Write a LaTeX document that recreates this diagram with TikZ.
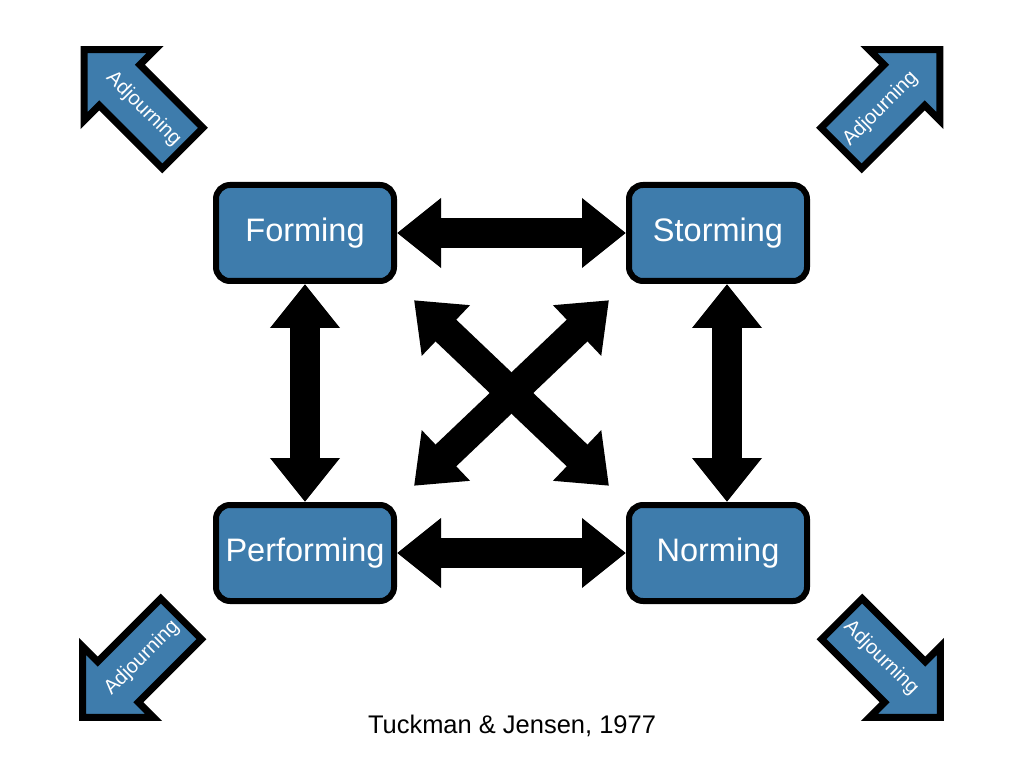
\documentclass[tikz,border=0pt]{standalone}
\usepackage{fontspec}
\setmainfont{Liberation Sans}
\usepackage{tikz}
\usetikzlibrary{positioning, arrows.meta, shapes.arrows}
\definecolor{stageblue}{RGB}{62,124,172}
\tikzset{
  stage/.style={draw=black, fill=stageblue, line width=0.12cm, rounded corners=0.28cm,
    minimum width=3.56cm, minimum height=1.92cm, text=white, font=\fontsize{18.5}{22}\selectfont},
  both/.style={line width=0.6cm,
    {Triangle[length=0.88cm,width=1.34cm]}-{Triangle[length=0.88cm,width=1.34cm]}},
  adjourn/.style={single arrow, draw=black, line width=0.14cm, fill=stageblue, text=white,
    font=\fontsize{11.5}{13}\selectfont, minimum height=2.75cm, inner xsep=2pt, inner ysep=9pt,
    single arrow head extend=0.43cm, single arrow tip angle=90}
}

\begin{document}
\begin{tikzpicture}
            \useasboundingbox (0,0) rectangle (20.48,-15.36);
            % the four stages
            \node [stage] (forming) at (6.1,-4.66) {Forming};
            \node [stage, right=4.58cm of forming] (storming) {Storming};
            \node [stage, below=4.36cm of forming] (performing) {Performing};
            \node [stage, right=4.58cm of performing] (norming) {Norming};
            % links
            \draw [both] (forming) -- (storming);
            \draw [both] (performing) -- (norming);
            \draw [both] (forming) -- (performing);
            \draw [both] ([xshift=0.18cm]storming.south) -- ([xshift=0.18cm]norming.north);
            \draw [both, shorten <=0.47cm, shorten >=0.47cm] (forming.south east) -- (norming.north west);
            \draw [both, shorten <=0.47cm, shorten >=0.47cm] (storming.south west) -- (performing.north east);
            % corner arrows
            \node [adjourn, rotate=-45, shape border rotate=180] (adjtl) at (2.87,-2.18) {Adjourning};
            \node [adjourn, rotate=45] (adjtr) at (17.61,-2.18) {Adjourning};
            \node [adjourn, rotate=45, shape border rotate=180] (adjbl) at (2.84,-13.16) {Adjourning};
            \node [adjourn, rotate=-45] (adjbr) at (17.62,-13.16) {Adjourning};
            \node [font=\fontsize{14.5}{17}\selectfont] (source) at (10.24,-14.52) {Tuckman \& Jensen, 1977};
\end{tikzpicture}
\end{document}
